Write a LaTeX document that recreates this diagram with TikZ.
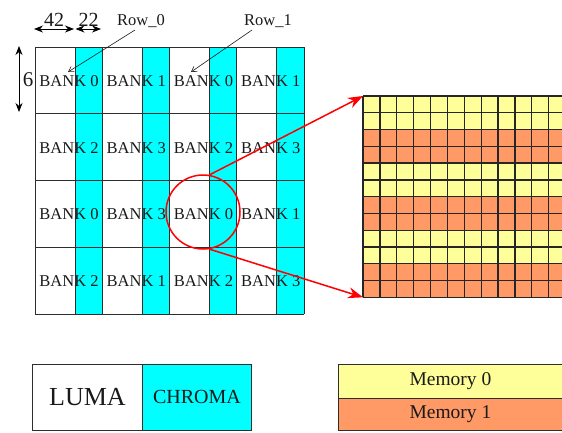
\documentclass[tikz,border=0pt]{standalone}
\usepackage{fontspec}
\setmainfont{Liberation Serif}
\usetikzlibrary{arrows.meta}
\definecolor{chroma}{HTML}{00FFFF}
\definecolor{memA}{HTML}{FFFF99}
\definecolor{memB}{HTML}{FF9966}
\definecolor{gridline}{HTML}{2E2E2E}
\definecolor{ink}{HTML}{1A1A1A}
\newcommand{\fs}[1]{\fontsize{#1}{#1}\selectfont}
\begin{document}
\begin{tikzpicture}[x=1pt,y=-1pt,
  bankcell/.style={inner sep=0pt, text=ink, font=\fs{16.5}},
  gline/.style={draw=gridline, line width=0.8pt},
  mline/.style={draw=black!85, line width=1.3pt},
  zoomline/.style={draw=red, line width=1.5pt, -{Stealth[length=15pt,width=11pt]}},
  dimarrow/.style={draw=black, line width=0.8pt, {Stealth[length=9pt,width=7pt]}-{Stealth[length=9pt,width=7pt]}},
  rowarrow/.style={draw=ink, line width=0.6pt, -{Straight Barb[length=5pt,width=6pt]}},
  legendbox/.style={draw=gridline, line width=0.8pt, inner sep=0pt, anchor=north west, text=ink}]
\useasboundingbox (0,0) rectangle (562,432);

% chroma stripes of the frame layout
\foreach \c in {0,...,3}
  \fill[chroma] (75+67.25*\c,47) rectangle (102+67.25*\c,314);

% frame grid lines
\foreach \r in {0,...,4}
  \draw[gline] (35,47+66.75*\r) -- (304,47+66.75*\r);
\foreach \c in {0,...,4}
  \draw[gline] (35+67.25*\c,47) -- (35+67.25*\c,314);
\foreach \c in {0,...,3}
  \draw[gline] (75+67.25*\c,47) -- (75+67.25*\c,314);

% bank labels
\foreach \r/\c/\n in {0/0/0,0/1/1,0/2/0,0/3/1,
                      1/0/2,1/1/3,1/2/2,1/3/3,
                      2/0/0,2/1/3,2/2/0,2/3/1,
                      3/0/2,3/1/1,3/2/2,3/3/3}
  \node[bankcell] (b\r\c) at (69+67.25*\c,81+66.75*\r) {BANK \n};

% dimension marks
\coordinate (w0) at (34,29);
\coordinate (w1) at (74,29);
\coordinate (w2) at (75.5,29);
\coordinate (w3) at (101,29);
\draw[dimarrow] (w0) -- (w1);
\draw[dimarrow] (w2) -- (w3);
\node[font=\fs{20}, text=ink, inner sep=0pt] (d42) at (54,20) {42};
\node[font=\fs{20}, text=ink, inner sep=0pt] (d22) at (88.5,20) {22};
\coordinate (h0) at (19,46);
\coordinate (h1) at (19,112);
\draw[dimarrow] (h0) -- (h1);
\node[font=\fs{21}, text=ink, inner sep=0pt] (d6) at (28,80) {6};

% row annotations
\node[font=\fs{16.5}, text=ink, inner sep=0pt] (row0) at (141,21) {Row\_0};
\node[font=\fs{16.5}, text=ink, inner sep=0pt] (row1) at (268,21) {Row\_1};
\coordinate (row0tip) at (68,72);
\coordinate (row1tip) at (191,72);
\draw[rowarrow] (135,30) -- (row0tip);
\draw[rowarrow] (252,30) -- (row1tip);

% memory layout grid
\foreach \k in {0,...,5} {
  \pgfmathsetmacro{\yy}{96+33.55*\k}
  \ifodd\k
    \fill[memB] (363,\yy) rectangle (562,\yy+33.55);
  \else
    \fill[memA] (363,\yy) rectangle (562,\yy+33.55);
  \fi
}
\foreach \j in {0,...,12}
  \draw[mline] (363,96+16.775*\j) -- (562,96+16.775*\j);
\foreach \i in {0,...,11}
  \draw[mline] (363+16.88*\i,96) -- (363+16.88*\i,297.3);
\coordinate (memtl) at (363,96);
\coordinate (membl) at (363,297.3);

% magnified region
\node[draw=red, line width=1.5pt, circle, minimum size=74pt, inner sep=0pt] (focus) at (203,212) {};
\draw[zoomline] (focus.80) -- (memtl);
\draw[zoomline] (focus.-80) -- (membl);

% legends
\node[legendbox, minimum width=110pt, minimum height=66pt, font=\fs{26}] (luma) at (32,364) {LUMA};
\node[legendbox, fill=chroma, minimum width=109pt, minimum height=66pt, font=\fs{20}] (chr) at (142,364) {CHROMA};
\node[legendbox, fill=memA, minimum width=224pt, minimum height=34pt, font=\fs{19.5}] (mem0) at (338,364) {Memory 0};
\node[legendbox, fill=memB, minimum width=224pt, minimum height=32pt, font=\fs{19.5}] (mem1) at (338,398) {Memory 1};
\end{tikzpicture}
\end{document}
